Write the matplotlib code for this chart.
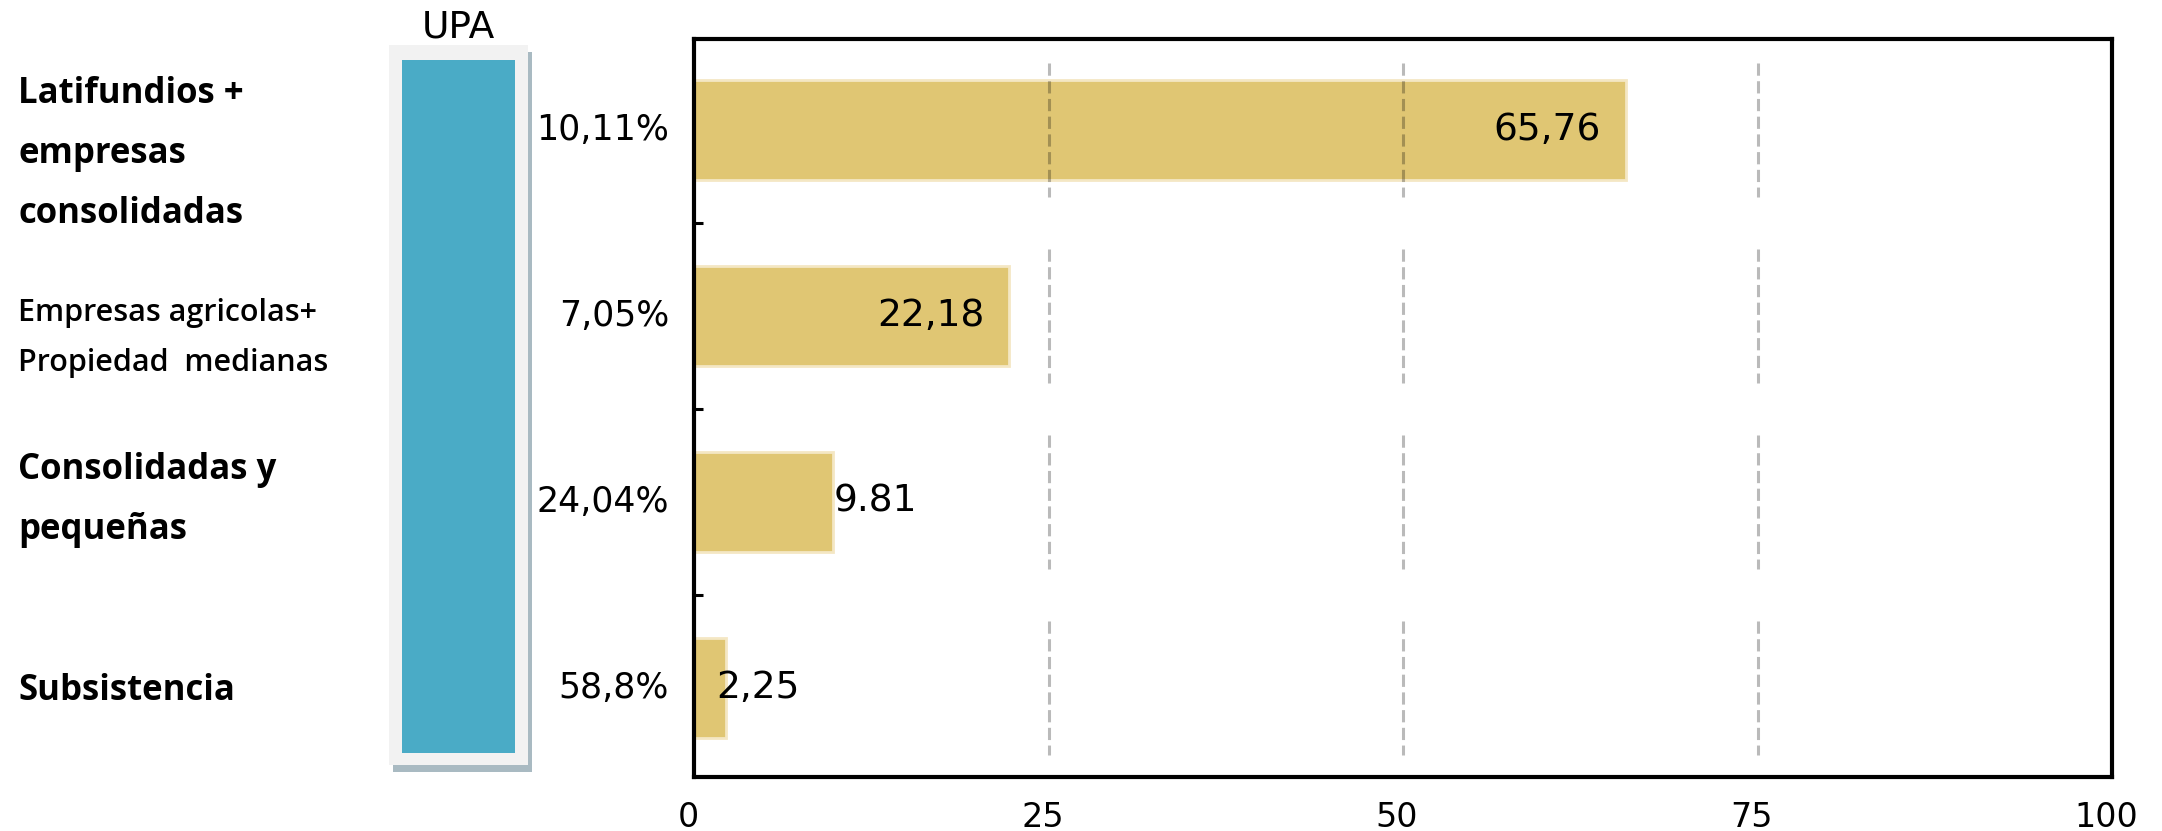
import matplotlib.pyplot as plt
import matplotlib.patheffects as pe
from matplotlib import transforms

# datos
categorias = ['Latifundios +\nempresas\nconsolidadas',
              'Empresas agricolas+\nPropiedad  medianas',
              'Consolidadas y\npequeñas',
              'Subsistencia']
valores = [65.76, 22.18, 9.81, 2.25]
etiquetas_valor = ['65,76', '22,18', '9.81', '2,25']
porcentajes_upa = ['10,11%', '7,05%', '24,04%', '58,8%']
upa_total = 100
x_ticks = [0, 25, 50, 75, 100]

W, H = 2162, 831
fig = plt.figure(figsize=(W / 100, H / 100), dpi=100)

# grafico principal de barras
ax = fig.add_axes([694 / W, 1 - 777 / H, (2112 - 694) / W, (777 - 39) / H])
pos = list(range(len(valores)))
ax.barh(pos, valores, height=0.54, color='#E0C673', edgecolor='#F4E7C4',
        linewidth=2, zorder=2)

# lineas de guia cortadas por categoria
for i in pos:
    ax.vlines(x_ticks[1:-1], i - 0.36, i + 0.36, colors='black', alpha=0.27,
              linestyles=(0, (4, 1.8)), linewidth=2.2, zorder=3)

# etiquetas de valor
dx = [-1.8, -1.7, 0.05, -0.7]
ha = ['right', 'right', 'left', 'left']
for i in pos:
    ax.text(valores[i] + dx[i], i, etiquetas_valor[i], ha=ha[i], va='center',
            fontsize=27, family='DejaVu Sans', zorder=4)

ax.set_xlim(0, 100)
ax.set_ylim(3.48, -0.49)
ax.set_xticks(x_ticks)
ax.set_xticklabels([str(t) for t in x_ticks], fontsize=24)
ax.tick_params(axis='x', length=0, pad=17)
desplaza = transforms.ScaledTranslation(-0.06, 0, fig.dpi_scale_trans)
for lbl in ax.get_xticklabels():
    lbl.set_transform(lbl.get_transform() + desplaza)
ax.set_yticks([p / 2 for p in range(0, 7)])
ax.set_yticklabels([])
ax.tick_params(axis='y', direction='in', length=6.5, width=2.2, right=False)
for s in ax.spines.values():
    s.set_linewidth(3)

# nombres de categoria y porcentajes de UPA
tr = transforms.blended_transform_factory(fig.transFigure, ax.transData)
dy = [0.13, 0.12, -0.01, 0.02]
tam = [25, 22, 25, 25]
peso = ['bold', 'semibold', 'bold', 'bold']
for i in pos:
    ax.text(18 / W, i + dy[i], categorias[i], transform=tr, ha='left',
            va='center', fontsize=tam[i], family='Open Sans',
            fontweight=peso[i], linespacing=1.88)
    ax.text(669 / W, i, porcentajes_upa[i], transform=tr, ha='right',
            va='center', fontsize=25, family='DejaVu Sans')

# barra UPA
ax2 = fig.add_axes([389 / W, 1 - 765 / H, 139 / W, 720 / H])
ax2.bar([0.5], [upa_total], width=0.813, color='#4AABC6', zorder=2)
ax2.set_xlim(0, 1)
ax2.set_ylim(-1.73, 102.16)
ax2.set_facecolor('#F2F2F2')
ax2.patch.set_path_effects([
    pe.SimplePatchShadow(offset=(3.2, -5), shadow_rgbFace='#A9BAC2', alpha=1),
    pe.Normal()])
for s in ax2.spines.values():
    s.set_visible(False)
ax2.set_xticks([])
ax2.set_yticks([])
ax2.set_title('UPA', fontsize=27, pad=4)

fig.savefig('out.png', dpi=100)
